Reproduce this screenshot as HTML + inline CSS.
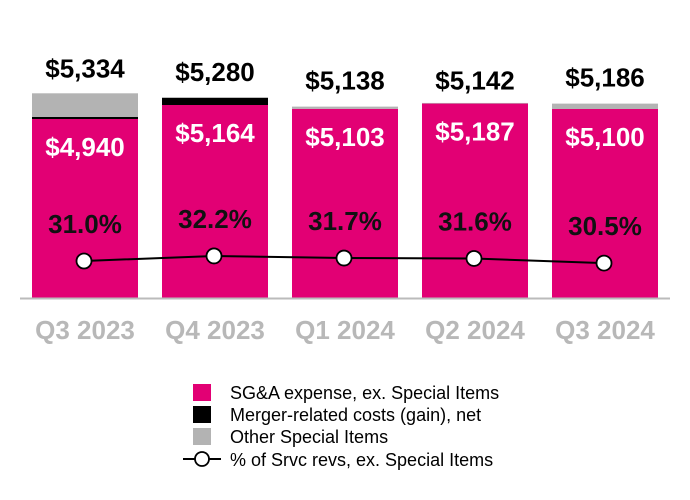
<!DOCTYPE html>
<html><head><meta charset="utf-8"><style>
body{margin:0;background:#fff;}
svg{display:block;font-family:"Liberation Sans",Arial,sans-serif;}
</style></head><body>
<svg id="chart" width="690" height="500"></svg>
<script>
const categories=["Q3 2023","Q4 2023","Q1 2024","Q2 2024","Q3 2024"];
const sgaValues=[4940,5164,5103,5187,5100];
const mergerValues=[15,116,0,0,0];
const otherValues=[379,0,35,10,86];
const totalValues=[5334,5280,5138,5142,5186];
const pctValues=[31.0,32.2,31.7,31.6,30.5];

const NS="http://www.w3.org/2000/svg";
const svg=document.getElementById('chart');
function mk(tag,attrs,parent){const e=document.createElementNS(NS,tag);for(const k in attrs)e.setAttribute(k,attrs[k]);(parent||svg).appendChild(e);return e;}
const base=298, yMin=2076, k=0.0625;
function y(v){return base-(v-yMin)*k;}
function py(p){return 261-(p-31)*4.2;}
const slot=130, x0=32, bw=106;
function bx(i){return x0+i*slot;}

categories.forEach((c,i)=>{
  const x=bx(i);
  const pTop=y(sgaValues[i]);
  const r=mk('rect',{x:x,y:pTop,width:bw,height:base-pTop,fill:'#e20074'});
  
  
  let top=pTop;
  if(mergerValues[i]>0){const h=Math.max(2,mergerValues[i]*k);top-=h;
    const m=mk('rect',{x:x,y:top,width:bw,height:h,fill:'#000'});
    
    }
  if(otherValues[i]>0){const h=otherValues[i]*k;top-=h;
    const o=mk('rect',{x:x,y:top,width:bw,height:h,fill:'#b3b3b3'});
    
    }
  const tt=mk('text',{x:x+bw/2,y:y(totalValues[i])-17,'text-anchor':'middle','font-size':26,'font-weight':'bold',fill:'#000'});
  tt.textContent='$'+totalValues[i].toLocaleString('en-US');
  
  
  const st=mk('text',{x:x+bw/2,y:pTop+37,'text-anchor':'middle','font-size':26,'font-weight':'bold',fill:'#fff'});
  st.textContent='$'+sgaValues[i].toLocaleString('en-US');
  
  
  const pt=mk('text',{x:x+bw/2,y:py(pctValues[i])-28,'text-anchor':'middle','font-size':26,'font-weight':'bold',fill:'#111'});
  pt.textContent=pctValues[i].toFixed(1)+'%';
  
  
  const cl=mk('text',{x:x+bw/2,y:339,'text-anchor':'middle','font-size':26,'font-weight':'bold',fill:'#b8b8b8'});
  cl.textContent=c;
  
  
});
const ax=mk('line',{x1:20,y1:base+0.5,x2:670,y2:base+0.5,stroke:'#bbb','stroke-width':2});


const ln=mk('polyline',{points:pctValues.map((p,i)=>(bx(i)+52)+','+py(p)).join(' '),fill:'none',stroke:'#000','stroke-width':2});


pctValues.forEach((p,i)=>{
  const c=mk('circle',{cx:bx(i)+52,cy:py(p),r:7.5,fill:'#fff',stroke:'#000','stroke-width':1.8});
  
  
});
const leg=[['#e20074','SG&A expense, ex. Special Items'],['#000','Merger-related costs (gain), net'],['#b3b3b3','Other Special Items']];
leg.forEach((l,i)=>{
  const ry=384+i*22;
  const s=mk('rect',{x:193,y:ry,width:18,height:17,fill:l[0]});
  
  
  const t=mk('text',{x:230,y:ry+15,'font-size':18,fill:'#000'});
  t.textContent=l[1];
  
  
});
const ll=mk('line',{x1:183,y1:459,x2:221,y2:459,stroke:'#000','stroke-width':2});


const lc=mk('circle',{cx:202,cy:459,r:7,fill:'#fff',stroke:'#000','stroke-width':1.8});


const lt=mk('text',{x:230,y:466,'font-size':18,fill:'#000'});
lt.textContent='% of Srvc revs, ex. Special Items';


</script>
</body></html>
